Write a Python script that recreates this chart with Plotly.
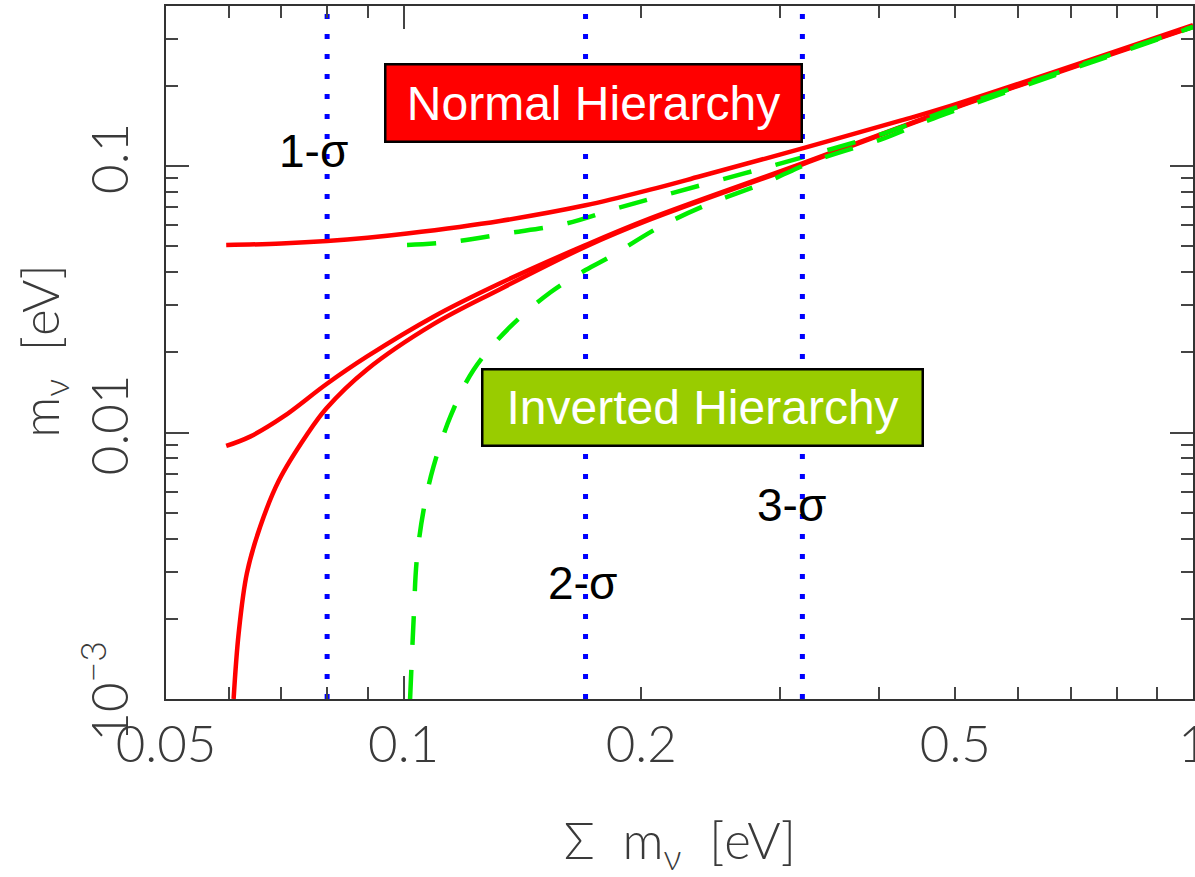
import math
import plotly.graph_objects as go

# Normal hierarchy: neutrino masses versus the sum of masses (eV)
nh_m3_sum = [0.0596, 0.0700, 0.0800, 0.0900, 0.101, 0.1325, 0.170, 0.2053, 0.2376, 0.320, 0.426, 0.493, 1.0]
nh_m3 = [0.0505, 0.0512, 0.0523, 0.0538, 0.0558, 0.0622, 0.0712, 0.0815, 0.0915, 0.1165, 0.148, 0.168, 0.338]

nh_m2_sum = [0.0596, 0.0639, 0.0704, 0.0798, 0.0898, 0.1091, 0.1325, 0.170, 0.2053, 0.320, 0.493, 1.0]
nh_m2 = [0.0089, 0.00965, 0.01146, 0.01517, 0.01925, 0.0272, 0.0363, 0.0505, 0.0636, 0.1023, 0.164, 0.334]

nh_m1_sum = [0.0609, 0.0618, 0.0633, 0.0658, 0.0695, 0.0754, 0.0798, 0.0898, 0.1091, 0.1325, 0.170, 0.2053, 0.320, 0.493, 1.0]
nh_m1 = [0.001, 0.00176, 0.00296, 0.00443, 0.0066, 0.0098, 0.0123, 0.0172, 0.0255, 0.0345, 0.0498, 0.0630, 0.1015, 0.163, 0.333]

# Inverted hierarchy
ih_m12_sum = [0.101, 0.1156, 0.1351, 0.1594, 0.1863, 0.220, 0.320, 0.406, 0.493, 1.0]
ih_m12 = [0.0505, 0.0520, 0.0559, 0.0605, 0.0694, 0.0795, 0.1078, 0.1327, 0.163, 0.333]

ih_m3_sum = [0.1019, 0.103, 0.1039, 0.106, 0.1091, 0.1146, 0.1226, 0.1364, 0.1535, 0.170, 0.1827,
             0.2113, 0.2446, 0.2857, 0.334, 0.406, 0.4694, 1.0]
ih_m3 = [0.001, 0.00204, 0.00332, 0.00512, 0.00744, 0.01146, 0.01716, 0.0249, 0.0336, 0.0407, 0.0457,
         0.0592, 0.0724, 0.0861, 0.1053, 0.127, 0.151, 0.332]

# Cosmological upper limits on the sum of masses
sigma_limits = [0.08, 0.17, 0.32]
sigma_labels = ["1-σ", "2-σ", "3-σ"]

# Axis ticks
x_range = [0.05, 1.0]
y_range = [0.001, 0.3985]
x_major = [0.05, 0.1, 0.2, 0.5, 1.0]
x_major_text = ["0.05", "0.1", "0.2", "0.5", "1"]
x_minor = [0.06, 0.07, 0.08, 0.09, 0.3, 0.4, 0.6, 0.7, 0.8, 0.9]
y_major = [0.001, 0.01, 0.1]
y_major_text = ["10<sup>−3</sup>", "0.01", "0.1"]
y_minor = [k * 10 ** e for e in (-3, -2) for k in range(2, 10)] + [0.2, 0.3]

RED = "#ff0000"
GREEN = "#00ee00"
BLUE = "#0000ff"
AXIS = "#333333"
LABEL_FONT = dict(family="Lato, Liberation Sans, sans-serif", size=51, color="#3a3a3a", weight=300)

fig = go.Figure()

for xs, ys in [(nh_m3_sum, nh_m3), (nh_m2_sum, nh_m2), (nh_m1_sum, nh_m1)]:
    fig.add_trace(go.Scatter(x=xs, y=ys, mode="lines", line=dict(color=RED, width=4.5, shape="spline", smoothing=1),
                             showlegend=False, hoverinfo="skip"))

for xs, ys in [(ih_m12_sum, ih_m12), (ih_m3_sum, ih_m3)]:
    fig.add_trace(go.Scatter(x=xs, y=ys, mode="lines",
                             line=dict(color=GREEN, width=4.5, dash="29px,25px", shape="spline", smoothing=1),
                             showlegend=False, hoverinfo="skip"))

for s in sigma_limits:
    fig.add_trace(go.Scatter(x=[s, s], y=y_range, mode="lines",
                             line=dict(color=BLUE, width=5, dash="5px,15px"),
                             showlegend=False, hoverinfo="skip"))

# carrier for the long major ticks on the overlay axis
fig.add_trace(go.Scatter(x=[0.1], y=[0.01], xaxis="x2", mode="markers", marker=dict(opacity=0),
                         showlegend=False, hoverinfo="skip"))

lx = [math.log10(v) for v in x_range]
ly = [math.log10(v) for v in y_range]

tick_common = dict(ticks="inside", tickcolor="#444444", tickwidth=1.5)

fig.update_layout(
    width=1195, height=877,
    margin=dict(l=166, r=2, t=6, b=178),
    paper_bgcolor="white", plot_bgcolor="white",
    xaxis=dict(type="log", range=lx, tickvals=x_major, ticktext=x_major_text, ticklen=12,
               showline=True, linecolor=AXIS, linewidth=2, mirror="ticks", showgrid=False, zeroline=False,
               tickfont=LABEL_FONT, ticklabelstandoff=0, ticklabeloverflow="allow", automargin=False,
               minor=dict(tickvals=x_minor, ticklen=12, showgrid=False, **tick_common), **tick_common),
    xaxis2=dict(type="log", range=lx, overlaying="x", anchor="y", side="bottom", tickvals=[0.1, 1.0], ticklen=23,
                showticklabels=False, showline=False, mirror="ticks", showgrid=False, zeroline=False,
                automargin=False, **tick_common),
    yaxis=dict(type="log", range=ly, tickvals=y_major, ticktext=y_major_text, ticklen=23, tickangle=-90,
               showline=True, linecolor=AXIS, linewidth=2, mirror="ticks", showgrid=False, zeroline=False,
               tickfont=LABEL_FONT, ticklabelstandoff=16, ticklabeloverflow="allow", automargin=False,
               minor=dict(tickvals=y_minor, ticklen=12, showgrid=False, **tick_common), **tick_common),
)

# Axis titles
fig.add_annotation(x=0.5005, y=-0.209, xref="paper", yref="paper", xanchor="center", yanchor="middle",
                   showarrow=False, text="Σ  m<sub>ν</sub>  [eV]", font=LABEL_FONT)
fig.add_annotation(x=-0.12, y=0.502, xref="paper", yref="paper", xanchor="center", yanchor="middle",
                   showarrow=False, textangle=-90, text="m<sub>ν</sub>  [eV]", font=LABEL_FONT)

# Hierarchy labels
BOX_FONT = dict(family="Liberation Sans, Arial, sans-serif", size=48, color="white")
fig.add_annotation(x=0.4163, y=0.860, xref="paper", yref="paper", xanchor="center", yanchor="middle",
                   showarrow=False, text="Normal Hierarchy",
                   font=BOX_FONT, bgcolor=RED, bordercolor="black", borderwidth=2.5, borderpad=0,
                   width=414, height=75)
fig.add_annotation(x=0.5224, y=0.4206, xref="paper", yref="paper", xanchor="center", yanchor="middle",
                   showarrow=False, text="Inverted Hierarchy",
                   font=BOX_FONT, bgcolor="#99cc00", bordercolor="black", borderwidth=2.5, borderpad=0,
                   width=438, height=74)

# Confidence-level labels
SIG_FONT = dict(family="Liberation Sans, Arial, sans-serif", size=46, color="black")
for (px, py), lab in zip([(0.1441, 0.7908), (0.406, 0.1674), (0.6095, 0.28)], sigma_labels):
    fig.add_annotation(x=px, y=py, xref="paper", yref="paper", xanchor="center", yanchor="middle",
                       showarrow=False, text=lab, font=SIG_FONT)

fig.write_html("out.html")
